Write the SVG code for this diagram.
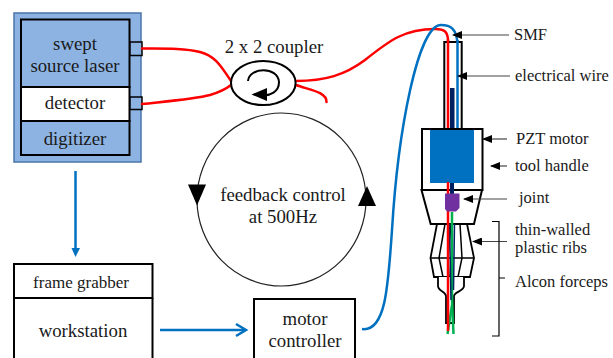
<svg xmlns="http://www.w3.org/2000/svg" width="613" height="358" viewBox="0 0 613 358">
<style>
text{font-family:"Liberation Serif","Times New Roman",serif;fill:#1a1a1a;text-anchor:middle}
.t{font-size:18.800px}
.s{font-size:16.500px;text-anchor:start}
.k{fill:none;stroke:#000;stroke-width:2}
.th{fill:none;stroke:#000;stroke-width:1.500}
.r{fill:none;stroke:#f00;stroke-width:2.500;stroke-linecap:round}
.b{fill:none;stroke:#0070c0;stroke-width:2.500}
.g{fill:none;stroke:#00b050;stroke-width:2.500}
.l{fill:none;stroke:#444;stroke-width:1.200}
</style>
<defs>
<marker id="a" markerWidth="10" markerHeight="8" refX="9" refY="4" orient="auto" markerUnits="userSpaceOnUse"><path d="M0 0L10 4L0 8z" fill="#000"/></marker>
</defs>
<g id="source">
<rect x="14" y="13" width="127" height="149" fill="#8db3e2" stroke="#4a76a8" stroke-width="1.500"/>
<rect x="21" y="19.500" width="108.500" height="67.500" fill="#8db3e2" stroke="#000" stroke-width="2"/>
<rect x="21" y="87" width="108.500" height="34" fill="#fff" stroke="#000" stroke-width="2"/>
<rect x="21" y="121" width="108.500" height="34" fill="#8db3e2" stroke="#000" stroke-width="2"/>
<rect x="130" y="42" width="12" height="13.500" fill="#8db3e2" stroke="#000" stroke-width="1.500"/>
<rect x="130" y="97" width="12" height="12.500" fill="#8db3e2" stroke="#000" stroke-width="1.500"/>
<text class="t" x="75" y="50">swept</text>
<text class="t" x="75" y="72">source laser</text>
<text class="t" x="75" y="108.500">detector</text>
<text class="t" x="75" y="144.500">digitizer</text>
</g>
<g id="connectors">
<path class="r" d="M142 48.500C165 48.500 185 48 200 52C216 56 222 68 231 81"/>
<path class="r" d="M142 104C170 101 195 99 210 95C220 92 226 89 231 85"/>
<path class="r" d="M296 81C325 81 345 75 365 60C390 40 405 29 435 29C445 29 447.500 32 448 40V130"/>
<path class="r" d="M296 85C310 90 327 92 326.500 102"/>
<path class="b" d="M362 329C385 332 388 290 392 230C398 130 418 25 441 25C450 25 457 28 457.500 45V129"/>
<path class="b" d="M75.500 171V250"/>
<path d="M71.500 248L75.500 257L80 248z" fill="#0070c0"/>
<path class="b" d="M160 330H245"/>
<path class="b" d="M236 324L246 330L236 336"/>
</g>
<g id="coupler">
<text class="t" x="274" y="52.500">2 x 2 coupler</text>
<ellipse cx="263.300" cy="83" rx="32.300" ry="22" fill="#fff" stroke="#000" stroke-width="2"/>
<path d="M248 81C249 67 278 66 279 82C279 92 270 96 262 95" class="k"/>
<path d="M251.500 94.500L267 88L267 101z" fill="#000"/>
</g>
<g id="feedback">
<ellipse cx="281.500" cy="199.500" rx="84.500" ry="86.500" fill="none" stroke="#222" stroke-width="1.200"/>
<path d="M188 184.500H206L197 205.500z" fill="#000"/>
<path d="M358 206H376L367 186z" fill="#000"/>
<text class="t" x="283" y="201">feedback control</text>
<text class="t" x="283" y="223">at 500Hz</text>
</g>
<g id="workstation">
<rect x="14" y="264" width="138.500" height="34" fill="#fff" stroke="#000" stroke-width="2"/>
<path d="M14 298V358M152.500 298V358" class="k"/>
<text x="81" y="288" style="font-size:17px">frame grabber</text>
<text class="t" x="83" y="337">workstation</text>
</g>
<g id="motor-controller">
<path d="M254 358V299H355V358" class="k"/>
<text class="t" x="305" y="325">motor</text>
<text class="t" x="305" y="347">controller</text>
</g>
<g id="tool">
<rect x="444.300" y="42" width="17.400" height="87" fill="#fff" stroke="#000" stroke-width="2"/>
<rect x="450" y="88" width="4.500" height="41" fill="#002060"/>
<path class="r" d="M448 40V129"/>
<path class="b" d="M457.500 40V129"/>
<path d="M422 129H482.500V190H422z" fill="#fff" stroke="#000" stroke-width="2"/>
<rect x="430" y="130" width="44" height="53" fill="#0070c0"/>
<path d="M421.500 190H482L474 224H430.700z" fill="#fff" stroke="#000" stroke-width="2"/>
<path d="M437 224L430.500 258L434 277H470L474 258L467 224z" fill="#fff" stroke="#000" stroke-width="1.800"/>
<path d="M430.500 258H474M445 224L439 258L443 277M451 224L448 258L449 277M460 224L462 258L458 277" class="th"/>
<path d="M438 277V286C438 291 446 292 446 296V323H454V296C454 292 464 291 464 286V277" fill="#fff" stroke="#000" stroke-width="1.800"/>
<path class="g" d="M452 212V300L453.500 334"/>
<path class="g" d="M452 305L447.500 334"/>
<path d="M449.500 224L451 300" stroke="#002060" stroke-width="1.500" fill="none"/>
<path d="M454.500 224L453.500 290" stroke="#002060" stroke-width="1.500" fill="none"/>
<path class="r" d="M448 183V330" stroke-width="2.800"/>
<path d="M450 183H454V194H450z" fill="#002060"/>
<path d="M445 193.500H459.500V208L456 211.500H447L445 209z" fill="#7030a0"/>
</g>
<g id="labels">
<text class="s" x="514" y="40">SMF</text>
<text class="s" x="515" y="81">electrical wire</text>
<text class="s" x="516" y="144">PZT motor</text>
<text class="s" x="515" y="171">tool handle</text>
<text class="s" x="519" y="203">joint</text>
<text class="s" x="515" y="235">thin-walled</text>
<text class="s" x="515" y="253">plastic ribs</text>
<text class="s" x="515" y="287">Alcon forceps</text>
<path class="l" d="M509 35H453" marker-end="url(#a)"/>
<path class="l" d="M510 76H458" marker-end="url(#a)"/>
<path class="l" d="M507 139H483" marker-end="url(#a)"/>
<path class="l" d="M507 166H491" marker-end="url(#a)"/>
<path class="l" d="M507 199H464" marker-end="url(#a)"/>
<path class="l" d="M507 241.500H473" marker-end="url(#a)"/>
<path d="M492 221.500H499V336H492M499 278H505" fill="none" stroke="#000" stroke-width="1.200"/>
</g>
</svg>
